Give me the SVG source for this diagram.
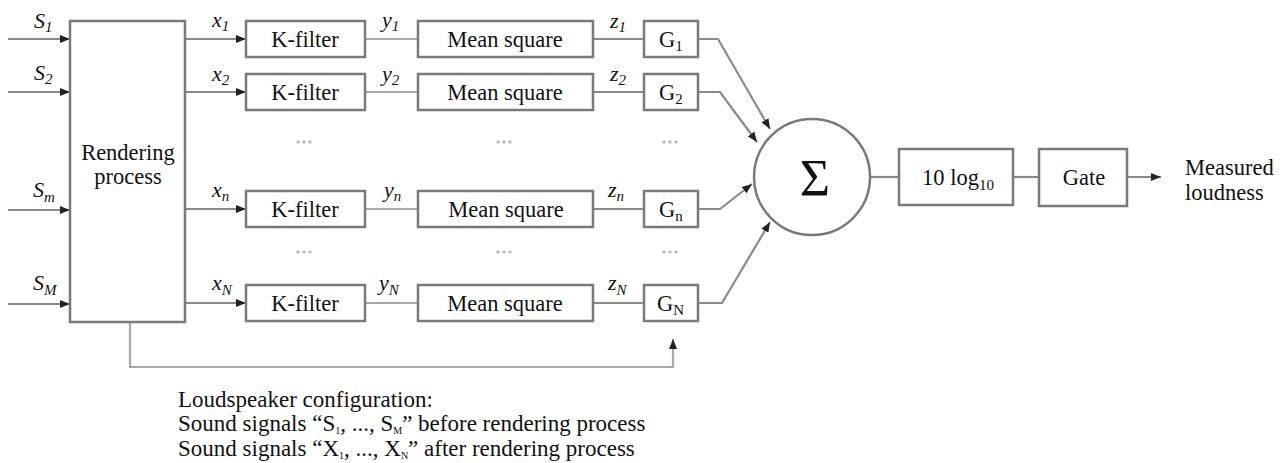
<svg xmlns="http://www.w3.org/2000/svg" width="1285" height="463" viewBox="0 0 1285 463">
<style>
.box{fill:#fff;stroke:#7a7a7a;stroke-width:2.5}
.ln{fill:none;stroke:#8a8a8a;stroke-width:2.2}
.lt{fill:none;stroke:#a8a8a8;stroke-width:2.2}
.t{font-family:"Liberation Serif","Times New Roman",serif;font-size:22.5px;fill:#111}
.c{text-anchor:middle}
.i{font-style:italic;font-size:22px}
.sub{font-size:15px}
.sm{font-size:10px}
.note{font-size:23px}
.sig{font-size:52px}
.dot{fill:#b0b0b0}
</style>
<defs>
<marker id="ah" markerUnits="userSpaceOnUse" markerWidth="10" markerHeight="8" refX="10" refY="4" orient="auto">
<path d="M0,0 L10,4 L0,8 z" fill="#222"/>
</marker>
</defs>
<rect width="1285" height="463" fill="#fff"/>

<g id="connectors">
<line class="ln" x1="8" y1="39" x2="70" y2="39" marker-end="url(#ah)"/>
<line class="ln" x1="8" y1="92" x2="70" y2="92" marker-end="url(#ah)"/>
<line class="ln" x1="8" y1="210" x2="70" y2="210" marker-end="url(#ah)"/>
<line class="ln" x1="8" y1="304" x2="70" y2="304" marker-end="url(#ah)"/>
<line class="ln" x1="185" y1="39" x2="246" y2="39" marker-end="url(#ah)"/>
<line class="ln" x1="185" y1="92" x2="246" y2="92" marker-end="url(#ah)"/>
<line class="ln" x1="185" y1="209" x2="246" y2="209" marker-end="url(#ah)"/>
<line class="ln" x1="185" y1="303" x2="246" y2="303" marker-end="url(#ah)"/>
<line class="lt" x1="365" y1="39" x2="418" y2="39"/>
<line class="lt" x1="365" y1="92" x2="418" y2="92"/>
<line class="lt" x1="365" y1="209" x2="418" y2="209"/>
<line class="lt" x1="365" y1="303" x2="418" y2="303"/>
<line class="ln" x1="593" y1="39" x2="644" y2="39"/>
<line class="ln" x1="593" y1="92" x2="644" y2="92"/>
<line class="ln" x1="593" y1="209" x2="644" y2="209"/>
<line class="ln" x1="593" y1="303" x2="644" y2="303"/>
<polyline class="ln" points="698,39 718,39 770,129" marker-end="url(#ah)"/>
<polyline class="ln" points="698,92 720,92 757,142" marker-end="url(#ah)"/>
<polyline class="ln" points="698,209 720,209 752,184" marker-end="url(#ah)"/>
<polyline class="ln" points="698,303 722,303 770,222" marker-end="url(#ah)"/>
<line class="ln" x1="870" y1="177" x2="899" y2="177"/>
<line class="ln" x1="1013" y1="177" x2="1039" y2="177"/>
<line class="ln" x1="1127" y1="177" x2="1161" y2="177" marker-end="url(#ah)"/>
<polyline class="lt" points="130,322 130,367 673,367 673,339" marker-end="url(#ah)"/>
</g>

<g id="rendering">
<rect class="box" x="70" y="21" width="115" height="301"/>
<text class="t c" x="128" y="160">Rendering</text>
<text class="t c" x="128" y="184">process</text>
</g>

<g id="inputs">
<text class="t i" x="34" y="28">S<tspan class="sub" dy="4">1</tspan></text>
<text class="t i" x="34" y="80">S<tspan class="sub" dy="4">2</tspan></text>
<text class="t i" x="33" y="197">S<tspan class="sub" dy="5">m</tspan></text>
<text class="t i" x="33" y="290">S<tspan class="sub" dy="5">M</tspan></text>
<text class="t i" x="212" y="27">x<tspan class="sub" dy="4">1</tspan></text>
<text class="t i" x="212" y="81">x<tspan class="sub" dy="4">2</tspan></text>
<text class="t i" x="212" y="197">x<tspan class="sub" dy="4">n</tspan></text>
<text class="t i" x="212" y="290">x<tspan class="sub" dy="5">N</tspan></text>
<text class="t i" x="382" y="27">y<tspan class="sub" dy="4">1</tspan></text>
<text class="t i" x="382" y="81">y<tspan class="sub" dy="4">2</tspan></text>
<text class="t i" x="384" y="197">y<tspan class="sub" dy="4">n</tspan></text>
<text class="t i" x="379" y="290">y<tspan class="sub" dy="5">N</tspan></text>
<text class="t i" x="610" y="28">z<tspan class="sub" dy="4">1</tspan></text>
<text class="t i" x="610" y="81">z<tspan class="sub" dy="4">2</tspan></text>
<text class="t i" x="608" y="197">z<tspan class="sub" dy="4">n</tspan></text>
<text class="t i" x="608" y="290">z<tspan class="sub" dy="5">N</tspan></text>
</g>

<g id="kfilter1"><rect class="box" x="246" y="21" width="119" height="36"/><text class="t c" x="305" y="47">K-filter</text></g>
<g id="kfilter2"><rect class="box" x="246" y="74" width="119" height="36"/><text class="t c" x="305" y="100">K-filter</text></g>
<g id="kfiltern"><rect class="box" x="246" y="191" width="119" height="36"/><text class="t c" x="305" y="217">K-filter</text></g>
<g id="kfilterN"><rect class="box" x="246" y="285" width="119" height="36"/><text class="t c" x="305" y="311">K-filter</text></g>

<g id="ms1"><rect class="box" x="418" y="21" width="175" height="36"/><text class="t c" x="505" y="47">Mean square</text></g>
<g id="ms2"><rect class="box" x="418" y="74" width="175" height="36"/><text class="t c" x="505" y="100">Mean square</text></g>
<g id="msn"><rect class="box" x="418" y="191" width="175" height="36"/><text class="t c" x="506" y="217">Mean square</text></g>
<g id="msN"><rect class="box" x="418" y="285" width="175" height="36"/><text class="t c" x="505" y="311">Mean square</text></g>

<g id="g1"><rect class="box" x="644" y="21" width="54" height="36"/><text class="t" x="659" y="47">G<tspan class="sub" dy="4">1</tspan></text></g>
<g id="g2"><rect class="box" x="644" y="74" width="54" height="36"/><text class="t" x="659" y="100">G<tspan class="sub" dy="4">2</tspan></text></g>
<g id="gn"><rect class="box" x="644" y="191" width="54" height="36"/><text class="t" x="659" y="217">G<tspan class="sub" dy="4">n</tspan></text></g>
<g id="gN"><rect class="box" x="644" y="285" width="54" height="36"/><text class="t" x="657" y="311">G<tspan class="sub" dy="4">N</tspan></text></g>

<g id="dots">
<circle class="dot" cx="298" cy="142" r="1.6"/><circle class="dot" cx="304" cy="142" r="1.6"/><circle class="dot" cx="310" cy="142" r="1.6"/>
<circle class="dot" cx="498" cy="142" r="1.6"/><circle class="dot" cx="504" cy="142" r="1.6"/><circle class="dot" cx="510" cy="142" r="1.6"/>
<circle class="dot" cx="664" cy="142" r="1.6"/><circle class="dot" cx="670" cy="142" r="1.6"/><circle class="dot" cx="676" cy="142" r="1.6"/>
<circle class="dot" cx="298" cy="252" r="1.6"/><circle class="dot" cx="304" cy="252" r="1.6"/><circle class="dot" cx="310" cy="252" r="1.6"/>
<circle class="dot" cx="498" cy="252" r="1.6"/><circle class="dot" cx="504" cy="252" r="1.6"/><circle class="dot" cx="510" cy="252" r="1.6"/>
<circle class="dot" cx="664" cy="252" r="1.6"/><circle class="dot" cx="670" cy="252" r="1.6"/><circle class="dot" cx="676" cy="252" r="1.6"/>
</g>

<g id="sum">
<circle class="box" cx="812" cy="177" r="58"/>
<text class="t c sig" x="815" y="196">Σ</text>
</g>

<g id="log">
<rect class="box" x="899" y="149" width="114" height="56"/>
<text class="t" x="922" y="185">10 log<tspan class="sub" dy="5">10</tspan></text>
</g>

<g id="gate">
<rect class="box" x="1039" y="149" width="88" height="57"/>
<text class="t c" x="1084" y="185">Gate</text>
</g>

<g id="output">
<text class="t" x="1185" y="175">Measured</text>
<text class="t" x="1185" y="200">loudness</text>
</g>

<g id="note">
<text class="t note" x="178" y="407">Loudspeaker configuration:</text>
<text class="t note" x="178" y="431">Sound signals “S<tspan class="sm" dy="3">1</tspan><tspan dy="-3">, ..., S</tspan><tspan class="sm" dy="3">M</tspan><tspan dy="-3">” before rendering process</tspan></text>
<text class="t note" x="178" y="456">Sound signals “X<tspan class="sm" dy="3">1</tspan><tspan dy="-3">, ..., X</tspan><tspan class="sm" dy="3">N</tspan><tspan dy="-3">” after rendering process</tspan></text>
</g>
</svg>
